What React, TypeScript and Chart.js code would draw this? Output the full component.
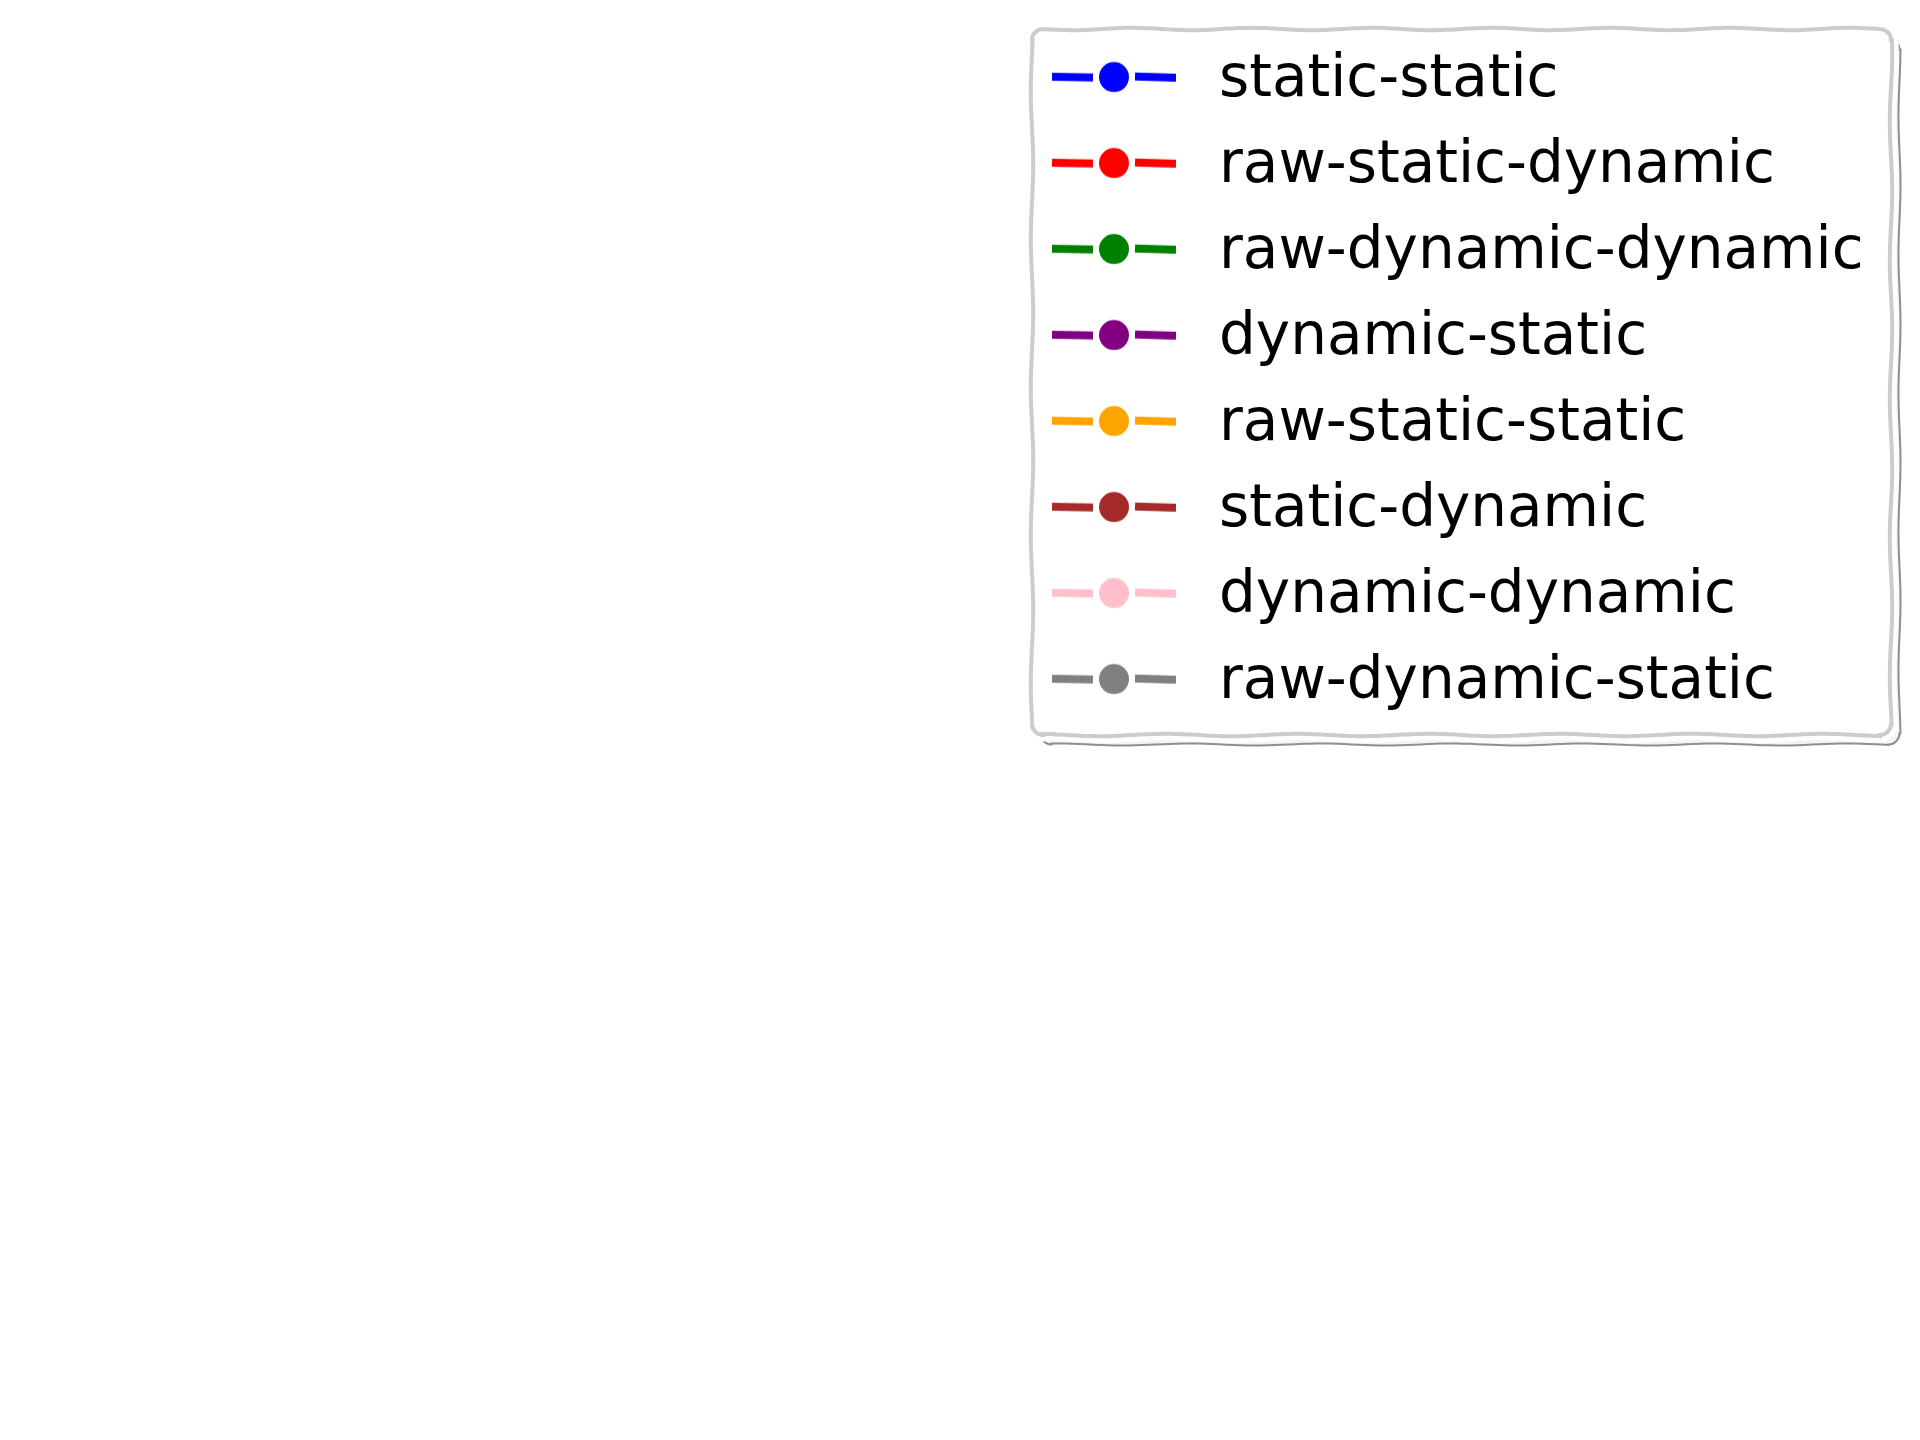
import React, { useEffect, useRef } from "react";
import { Chart, registerables } from "chart.js";

Chart.register(...registerables);

// ---- data ----
const seriesLabels: string[] = [
  "static-static",
  "raw-static-dynamic",
  "raw-dynamic-dynamic",
  "dynamic-static",
  "raw-static-static",
  "static-dynamic",
  "dynamic-dynamic",
  "raw-dynamic-static",
];
const seriesColors: string[] = [
  "#0000ff",
  "#ff0000",
  "#008000",
  "#800080",
  "#ffa500",
  "#a52a2a",
  "#ffc0cb",
  "#808080",
];
// the reference plot area is empty: every series has no points
const seriesValues: number[][] = [[], [], [], [], [], [], [], []];

const FONT_SIZE = 58;
const FONT_FAMILY = "'DejaVu Sans', sans-serif";
const ITEM_PAD = 28;
const HANDLE_BOX = 152;
const LEGEND_LEFT = 1010;
const LEGEND_TOP = 23.7;
const TEXT_SHIFT = 3.7;

function makeHandle(color: string): HTMLCanvasElement {
  const c = document.createElement("canvas");
  c.width = 124;
  c.height = 42;
  const ctx = c.getContext("2d")!;
  const cy = 21 - TEXT_SHIFT;
  ctx.strokeStyle = color;
  ctx.fillStyle = color;
  ctx.lineWidth = 8;
  ctx.lineCap = "butt";
  ctx.beginPath();
  ctx.moveTo(0, cy - 0.4);
  ctx.lineTo(41, cy + 0.4);
  ctx.stroke();
  ctx.beginPath();
  ctx.moveTo(83, cy - 0.6);
  ctx.lineTo(124, cy + 0.8);
  ctx.stroke();
  ctx.beginPath();
  ctx.arc(62, cy, 15, 0, Math.PI * 2);
  ctx.fill();
  return c;
}

function wobblyRoundRect(
  ctx: CanvasRenderingContext2D,
  x: number,
  y: number,
  w: number,
  h: number,
  r: number,
  amp: number,
  ph: number
) {
  const n = 120;
  ctx.beginPath();
  for (let i = 0; i <= n; i++) {
    const t = i / n;
    const px = x + r + t * (w - 2 * r);
    const py = y + amp * Math.sin(t * 44 + ph);
    if (i === 0) ctx.moveTo(px, py);
    else ctx.lineTo(px, py);
  }
  ctx.arc(x + w - r, y + r, r, -Math.PI / 2, 0);
  for (let i = 0; i <= n; i++) {
    const t = i / n;
    const px = x + w + amp * Math.sin(t * 31 + ph + 1);
    const py = y + r + t * (h - 2 * r);
    ctx.lineTo(px, py);
  }
  ctx.arc(x + w - r, y + h - r, r, 0, Math.PI / 2);
  for (let i = 0; i <= n; i++) {
    const t = i / n;
    const px = x + w - r - t * (w - 2 * r);
    const py = y + h + amp * Math.sin(t * 40 + ph + 2);
    ctx.lineTo(px, py);
  }
  ctx.arc(x + r, y + h - r, r, Math.PI / 2, Math.PI);
  for (let i = 0; i <= n; i++) {
    const t = i / n;
    const px = x + amp * Math.sin(t * 29 + ph + 3);
    const py = y + h - r - t * (h - 2 * r);
    ctx.lineTo(px, py);
  }
  ctx.arc(x + r, y + r, r, Math.PI, Math.PI * 1.5);
  ctx.closePath();
}

const legendFramePlugin = {
  id: "legendFrame",
  beforeDraw(chart: any) {
    const lg = chart.legend;
    if (!lg) return;
    const ctx: CanvasRenderingContext2D = chart.ctx;
    const x0 = lg.left + 22;
    const y0 = lg.top + 5.3;
    const w = 859;
    const h = 706;
    const r = 11;
    ctx.save();
    // shadow outline
    wobblyRoundRect(ctx, x0 + 8.5, y0 + 9.5, w, h, r, 1.0, 0.7);
    ctx.fillStyle = "#f4f4f4";
    ctx.fill();
    ctx.lineWidth = 2;
    ctx.strokeStyle = "#8f8f8f";
    ctx.stroke();
    // white halo + frame
    wobblyRoundRect(ctx, x0, y0, w, h, r, 1.2, 0.0);
    ctx.lineWidth = 13;
    ctx.strokeStyle = "#ffffff";
    ctx.stroke();
    ctx.fillStyle = "#ffffff";
    ctx.fill();
    ctx.lineWidth = 4;
    ctx.strokeStyle = "#cccccc";
    ctx.stroke();
    ctx.restore();
  },
};

function measureMaxLabel(): number {
  const c = document.createElement("canvas");
  const ctx = c.getContext("2d")!;
  ctx.font = `${FONT_SIZE}px ${FONT_FAMILY}`;
  return Math.max(...seriesLabels.map((s) => ctx.measureText(s).width));
}

export default function App() {
  const ref = useRef<HTMLCanvasElement | null>(null);

  useEffect(() => {
    if (!ref.current) return;
    const handles = seriesColors.map((c) => makeHandle(c));
    const legendWidth =
      ITEM_PAD + HANDLE_BOX + FONT_SIZE / 2 + measureMaxLabel() + 10;
    const padRight = 1920 - LEGEND_LEFT - legendWidth;
    const chart = new Chart(ref.current, {
      type: "line",
      data: {
        labels: [],
        datasets: seriesLabels.map((label, i) => ({
          label,
          data: seriesValues[i],
          borderColor: seriesColors[i],
          backgroundColor: seriesColors[i],
          borderWidth: 4,
          pointRadius: 8,
          pointStyle: handles[i] as any,
        })),
      },
      options: {
        animation: false,
        responsive: true,
        maintainAspectRatio: false,
        layout: {
          padding: { top: LEGEND_TOP, right: padRight, bottom: 0, left: 0 },
        },
        scales: {
          x: { display: false },
          y: { display: false },
        },
        plugins: {
          tooltip: { enabled: false },
          legend: {
            display: true,
            position: "right",
            align: "start",
            labels: {
              usePointStyle: true,
              pointStyleWidth: HANDLE_BOX,
              padding: ITEM_PAD,
              color: "#000000",
              font: { family: FONT_FAMILY, size: FONT_SIZE },
              generateLabels: (ch: any) =>
                ch.data.datasets.map((ds: any, i: number) => ({
                  text: ds.label,
                  fillStyle: seriesColors[i],
                  strokeStyle: seriesColors[i],
                  fontColor: "#000000",
                  lineWidth: 0,
                  pointStyle: handles[i],
                  hidden: false,
                  datasetIndex: i,
                })),
            },
          },
        },
      },
      plugins: [legendFramePlugin],
    } as any);
    return () => chart.destroy();
  }, []);

  return (
    <div
      style={{
        position: "absolute",
        left: 0,
        top: 0,
        width: 1920,
        height: 1440,
        background: "#ffffff",
      }}
    >
      <canvas ref={ref} />
    </div>
  );
}
